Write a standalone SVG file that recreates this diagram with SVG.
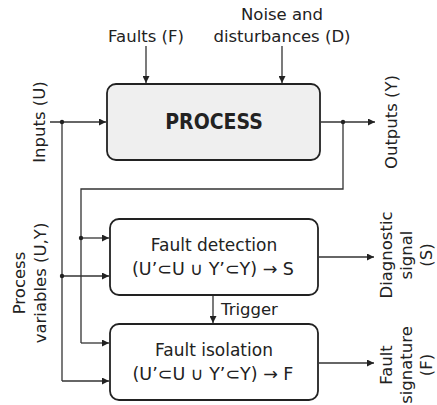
<svg xmlns="http://www.w3.org/2000/svg" width="437" height="405" viewBox="0 0 437 405">
<defs>
<marker id="ah" viewBox="0 0 10 10" refX="10" refY="5" markerWidth="9" markerHeight="7" markerUnits="userSpaceOnUse" orient="auto">
<path d="M0,0 L10,5 L0,10 z" fill="#222"/>
</marker>
</defs>
<style>
text{font-family:"DejaVu Sans",sans-serif;font-size:16.5px;fill:#222}
.c{text-anchor:middle}
.box{fill:#fff;stroke:#222;stroke-width:1.8}
.line{fill:none;stroke:#333;stroke-width:1.3}
.arr{marker-end:url(#ah)}
.dot{fill:#222}
.bt{font-size:17px}
.fm{font-size:17.5px}
</style>
<rect width="437" height="405" fill="#fff"/>
<g id="connectors">
<path class="line arr" d="M146,46 V83"/>
<path class="line arr" d="M282,46 V83"/>
<path class="line arr" d="M50,122 H106"/>
<path class="line arr" d="M321,122 H375"/>
<path class="line" d="M62,122 V381"/>
<path class="line" d="M343,122 V189 H81 V343"/>
<path class="line arr" d="M81,238 H109"/>
<path class="line arr" d="M62,276 H109"/>
<path class="line arr" d="M81,343 H109"/>
<path class="line arr" d="M62,381 H109"/>
<path class="line arr" d="M213,296 V323"/>
<path class="line arr" d="M319,257 H374"/>
<path class="line arr" d="M319,363 H374"/>
<circle class="dot" cx="62" cy="122" r="2.2"/>
<circle class="dot" cx="343" cy="122" r="2.2"/>
<circle class="dot" cx="81" cy="238" r="2.2"/>
<circle class="dot" cx="62" cy="276" r="2.2"/>
</g>
<g id="process">
<rect class="box" x="107" y="84" width="213" height="76" rx="9" style="fill:#efefef"/>
<text class="c" x="214" y="129" style="font-family:'DejaVu Sans Condensed','DejaVu Sans',sans-serif;font-weight:bold;font-size:21px">PROCESS</text>
</g>
<g id="faults-label"><text class="c" x="146" y="42">Faults (F)</text></g>
<g id="noise-label">
<text class="c" x="282" y="20">Noise and</text>
<text class="c" x="282" y="42">disturbances (D)</text>
</g>
<g id="inputs-label"><text class="c" transform="translate(45,122) rotate(-90)">Inputs (U)</text></g>
<g id="outputs-label"><text class="c" transform="translate(397,122) rotate(-90)">Outputs (Y)</text></g>
<g id="process-variables-label">
<text class="c" transform="translate(24.5,283) rotate(-90)">Process</text>
<text class="c" transform="translate(45.5,283) rotate(-90)">variables (U,Y)</text>
</g>
<g id="fault-detection">
<rect class="box" x="110" y="219" width="208" height="76" rx="9"/>
<text class="c bt" x="214" y="251">Fault detection</text>
<text class="c fm" x="213" y="275">(U’⊂U ∪ Y’⊂Y) → S</text>
</g>
<g id="trigger-label"><text x="221" y="315" style="font-size:16.5px">Trigger</text></g>
<g id="fault-isolation">
<rect class="box" x="110" y="324" width="208" height="76" rx="9"/>
<text class="c bt" x="214" y="356">Fault isolation</text>
<text class="c fm" x="213" y="380">(U’⊂U ∪ Y’⊂Y) → F</text>
</g>
<g id="diagnostic-label">
<text class="c" transform="translate(392,255) rotate(-90)">Diagnostic</text>
<text class="c" transform="translate(412,255) rotate(-90)">signal</text>
<text class="c" transform="translate(432,255) rotate(-90)">(S)</text>
</g>
<g id="signature-label">
<text class="c" transform="translate(392,365) rotate(-90)">Fault</text>
<text class="c" transform="translate(412,365) rotate(-90)">signature</text>
<text class="c" transform="translate(432,365) rotate(-90)">(F)</text>
</g>
</svg>
